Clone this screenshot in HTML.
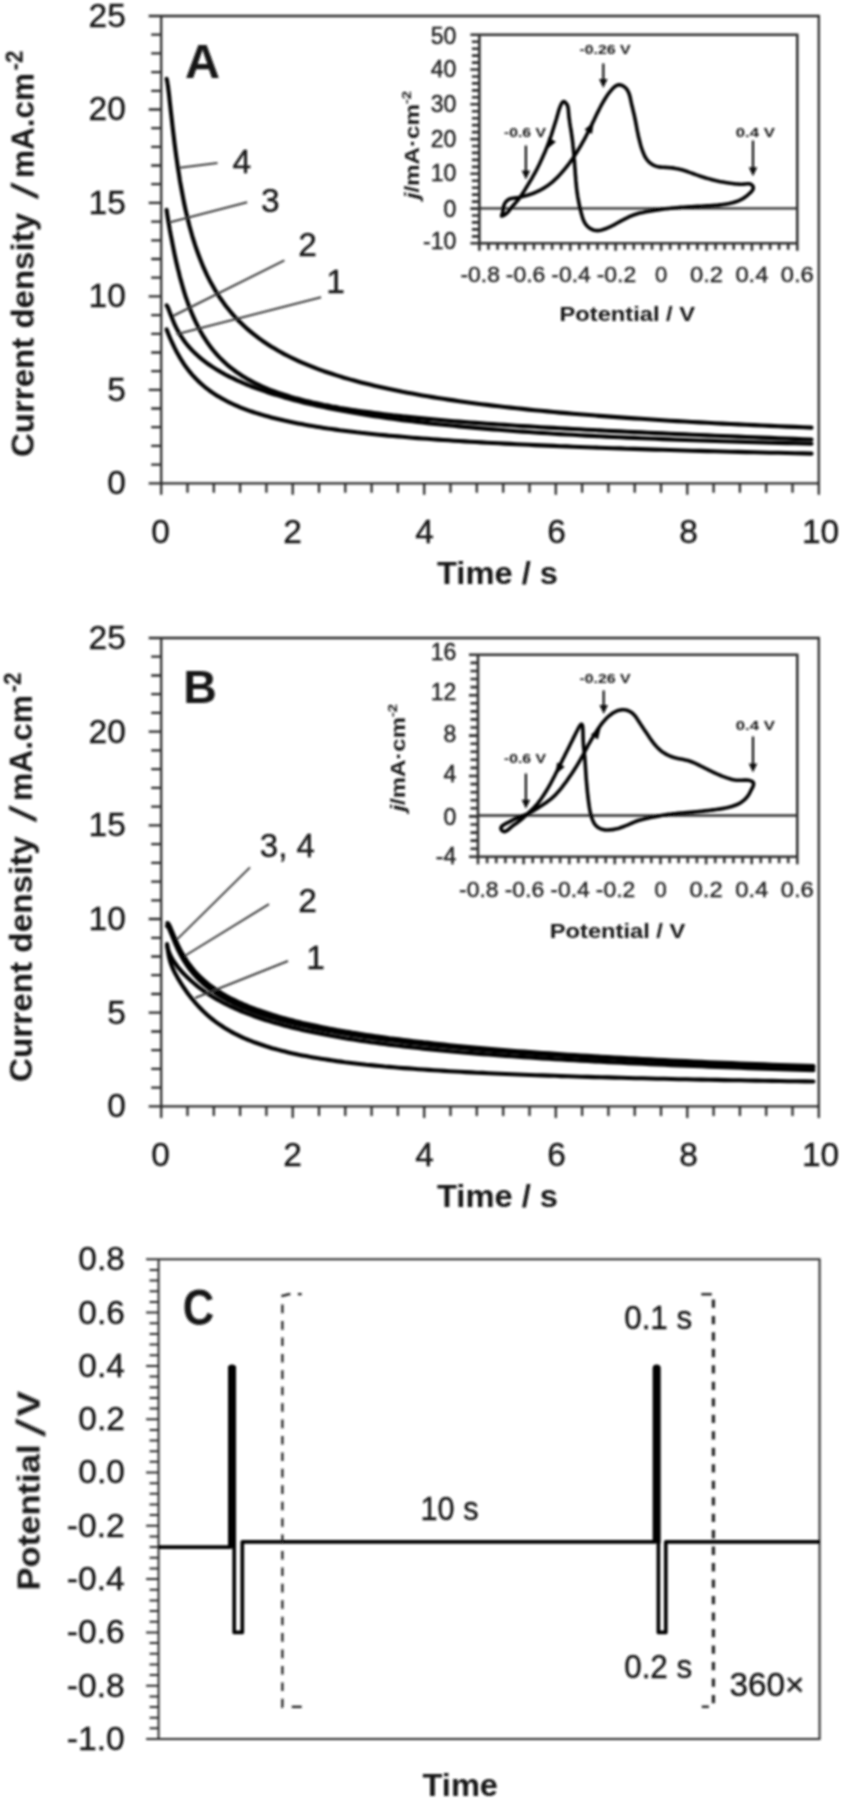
<!DOCTYPE html>
<html lang="en"><head><meta charset="utf-8"><title>Figure</title>
<style>
html,body{margin:0;padding:0;background:#fff}
body{width:844px;height:1800px;overflow:hidden}
svg{display:block}
svg text{font-family:"Liberation Sans",sans-serif}
</style></head><body>
<svg width="844" height="1800" viewBox="0 0 844 1800">
<defs><filter id="soft" x="0" y="0" width="844" height="1800" filterUnits="userSpaceOnUse"><feGaussianBlur stdDeviation="0.85"/></filter></defs>
<rect width="844" height="1800" fill="#fff"/>
<g filter="url(#soft)">
<path d="M148.7,16.0 H818.8 V494.8 M148.7,483.3 H818.8 M161.2,16.0 V494.8 M151.2,464.6 H161.2 M151.2,445.9 H161.2 M151.2,427.2 H161.2 M151.2,408.5 H161.2 M148.7,389.8 H161.2 M151.2,371.1 H161.2 M151.2,352.5 H161.2 M151.2,333.8 H161.2 M151.2,315.1 H161.2 M148.7,296.4 H161.2 M151.2,277.7 H161.2 M151.2,259.0 H161.2 M151.2,240.3 H161.2 M151.2,221.6 H161.2 M148.7,202.9 H161.2 M151.2,184.2 H161.2 M151.2,165.5 H161.2 M151.2,146.8 H161.2 M151.2,128.2 H161.2 M148.7,109.5 H161.2 M151.2,90.8 H161.2 M151.2,72.1 H161.2 M151.2,53.4 H161.2 M151.2,34.7 H161.2 M187.5,483.3 V492.8 M213.8,483.3 V492.8 M240.1,483.3 V492.8 M266.4,483.3 V492.8 M292.7,483.3 V494.8 M319.0,483.3 V492.8 M345.3,483.3 V492.8 M371.6,483.3 V492.8 M397.9,483.3 V492.8 M424.2,483.3 V494.8 M450.5,483.3 V492.8 M476.8,483.3 V492.8 M503.2,483.3 V492.8 M529.5,483.3 V492.8 M555.8,483.3 V494.8 M582.1,483.3 V492.8 M608.4,483.3 V492.8 M634.7,483.3 V492.8 M661.0,483.3 V492.8 M687.3,483.3 V494.8 M713.6,483.3 V492.8 M739.9,483.3 V492.8 M766.2,483.3 V492.8 M792.5,483.3 V492.8" fill="none" stroke="#2b2b2b" stroke-width="2.3"/>
<text x="125.8" y="494.2" font-size="33.5" text-anchor="end" fill="#141414" stroke="#141414" stroke-width="0.35" >0</text>
<text x="125.8" y="400.7" font-size="33.5" text-anchor="end" fill="#141414" stroke="#141414" stroke-width="0.35" >5</text>
<text x="125.8" y="307.3" font-size="33.5" text-anchor="end" fill="#141414" stroke="#141414" stroke-width="0.35" >10</text>
<text x="125.8" y="213.8" font-size="33.5" text-anchor="end" fill="#141414" stroke="#141414" stroke-width="0.35" >15</text>
<text x="125.8" y="120.4" font-size="33.5" text-anchor="end" fill="#141414" stroke="#141414" stroke-width="0.35" >20</text>
<text x="125.8" y="26.9" font-size="33.5" text-anchor="end" fill="#141414" stroke="#141414" stroke-width="0.35" >25</text>
<text x="160.6" y="542.7" font-size="33.5" text-anchor="middle" fill="#141414" stroke="#141414" stroke-width="0.35" >0</text>
<text x="292.6" y="542.7" font-size="33.5" text-anchor="middle" fill="#141414" stroke="#141414" stroke-width="0.35" >2</text>
<text x="424.6" y="542.7" font-size="33.5" text-anchor="middle" fill="#141414" stroke="#141414" stroke-width="0.35" >4</text>
<text x="556.6" y="542.7" font-size="33.5" text-anchor="middle" fill="#141414" stroke="#141414" stroke-width="0.35" >6</text>
<text x="688.6" y="542.7" font-size="33.5" text-anchor="middle" fill="#141414" stroke="#141414" stroke-width="0.35" >8</text>
<text x="820.6" y="542.7" font-size="33.5" text-anchor="middle" fill="#141414" stroke="#141414" stroke-width="0.35" >10</text>
<text x="437" y="583.7" font-size="32" text-anchor="start" fill="#141414" font-weight="bold" textLength="121" lengthAdjust="spacingAndGlyphs" >Time / s</text>
<g transform="translate(33.6 457.0) rotate(-90)" font-size="32" font-weight="bold" fill="#141414"><text x="0" y="0" textLength="244.0" lengthAdjust="spacingAndGlyphs">Current density</text><text x="0" y="0" font-size="37" transform="translate(257.5 3.5) skewX(-15)">/</text><text x="279.0" y="0" textLength="105.0" lengthAdjust="spacingAndGlyphs">mA.cm</text><text x="386.5" y="-11" font-size="23" textLength="20.0" lengthAdjust="spacingAndGlyphs">-2</text></g>
<text x="185" y="77.8" font-size="48.5" text-anchor="start" fill="#141414" font-weight="bold" >A</text>
<path d="M166.6,78.9 L166.6,78.9 L166.6,79.0 L166.7,79.1 L166.8,79.4 L166.9,79.8 L167.0,80.4 L167.2,81.2 L167.4,82.3 L167.6,83.8 L167.9,85.6 L168.2,87.9 L168.5,90.5 L168.9,93.6 L169.3,97.2 L169.7,101.1 L170.2,105.5 L170.7,110.2 L171.3,115.2 L171.9,120.6 L172.5,126.1 L173.2,131.9 L173.9,137.8 L174.6,143.8 L175.4,149.9 L176.2,156.1 L177.1,162.2 L178.0,168.4 L179.0,174.5 L179.9,180.6 L181.0,186.6 L182.1,192.5 L183.2,198.3 L184.3,204.0 L185.5,209.6 L186.8,215.1 L188.1,220.5 L189.4,225.7 L190.8,230.8 L192.2,235.8 L193.7,240.6 L195.2,245.4 L196.8,250.0 L198.4,254.5 L200.0,258.8 L201.7,263.1 L203.4,267.2 L205.2,271.2 L207.0,275.1 L208.9,278.9 L210.8,282.6 L212.8,286.1 L214.8,289.6 L216.9,293.0 L219.0,296.3 L221.2,299.5 L223.4,302.6 L225.6,305.7 L227.9,308.6 L230.3,311.5 L232.7,314.3 L235.1,317.0 L237.6,319.7 L240.2,322.3 L242.8,324.8 L245.4,327.2 L248.1,329.6 L250.8,331.9 L253.6,334.2 L256.5,336.4 L259.4,338.6 L262.3,340.7 L265.3,342.7 L268.3,344.7 L271.4,346.7 L274.6,348.6 L277.8,350.5 L281.0,352.3 L284.3,354.1 L287.6,355.8 L291.0,357.5 L294.5,359.2 L298.0,360.8 L301.5,362.4 L305.1,363.9 L308.8,365.4 L312.5,366.9 L316.3,368.4 L320.1,369.8 L323.9,371.2 L327.8,372.5 L331.8,373.8 L335.8,375.1 L339.9,376.4 L344.0,377.7 L348.2,378.9 L352.4,380.1 L356.7,381.2 L361.1,382.4 L365.5,383.5 L369.9,384.6 L374.4,385.7 L379.0,386.8 L383.6,387.8 L388.2,388.8 L392.9,389.8 L397.7,390.8 L402.5,391.8 L407.4,392.7 L412.3,393.6 L417.3,394.5 L422.4,395.4 L427.5,396.3 L432.6,397.1 L437.8,398.0 L443.1,398.8 L448.4,399.6 L453.8,400.4 L459.2,401.2 L464.7,402.0 L470.2,402.7 L475.8,403.5 L481.5,404.2 L487.2,404.9 L492.9,405.6 L498.8,406.3 L504.6,407.0 L510.6,407.6 L516.5,408.3 L522.6,408.9 L528.7,409.6 L534.8,410.2 L541.1,410.8 L547.3,411.4 L553.7,412.0 L560.0,412.6 L566.5,413.1 L573.0,413.7 L579.5,414.3 L586.1,414.8 L592.8,415.3 L599.5,415.9 L606.3,416.4 L613.2,416.9 L620.1,417.4 L627.0,417.9 L634.0,418.4 L641.1,418.8 L648.2,419.3 L655.4,419.8 L662.7,420.2 L670.0,420.7 L677.3,421.1 L684.8,421.5 L692.2,422.0 L699.8,422.4 L707.4,422.8 L715.0,423.2 L722.7,423.6 L730.5,424.0 L738.3,424.4 L746.2,424.8 L754.2,425.1 L762.2,425.5 L770.3,425.9 L778.4,426.2 L786.6,426.6 L794.8,426.9 L803.1,427.3 L811.5,427.6" fill="none" stroke="#000" stroke-width="4.1" stroke-linecap="round" stroke-linejoin="round"/>
<path d="M166.6,209.9 L166.6,210.0 L166.6,210.2 L166.7,210.6 L166.8,211.2 L166.9,211.9 L167.0,212.9 L167.2,214.0 L167.4,215.4 L167.6,216.9 L167.9,218.5 L168.2,220.4 L168.5,222.3 L168.9,224.5 L169.3,226.8 L169.7,229.3 L170.2,231.9 L170.7,234.7 L171.3,237.6 L171.9,240.7 L172.5,243.9 L173.2,247.3 L173.9,250.8 L174.6,254.3 L175.4,258.0 L176.2,261.7 L177.1,265.5 L178.0,269.3 L179.0,273.1 L179.9,277.0 L181.0,280.9 L182.1,284.8 L183.2,288.6 L184.3,292.4 L185.5,296.2 L186.8,299.9 L188.1,303.6 L189.4,307.2 L190.8,310.7 L192.2,314.2 L193.7,317.6 L195.2,320.9 L196.8,324.2 L198.4,327.4 L200.0,330.4 L201.7,333.4 L203.4,336.4 L205.2,339.2 L207.0,342.0 L208.9,344.6 L210.8,347.2 L212.8,349.8 L214.8,352.2 L216.9,354.6 L219.0,356.9 L221.2,359.1 L223.4,361.2 L225.6,363.3 L227.9,365.4 L230.3,367.3 L232.7,369.2 L235.1,371.0 L237.6,372.8 L240.2,374.5 L242.8,376.2 L245.4,377.8 L248.1,379.4 L250.8,380.9 L253.6,382.4 L256.5,383.8 L259.4,385.2 L262.3,386.5 L265.3,387.8 L268.3,389.1 L271.4,390.3 L274.6,391.5 L277.8,392.6 L281.0,393.7 L284.3,394.8 L287.6,395.8 L291.0,396.9 L294.5,397.9 L298.0,398.8 L301.5,399.8 L305.1,400.7 L308.8,401.5 L312.5,402.4 L316.3,403.2 L320.1,404.1 L323.9,404.9 L327.8,405.6 L331.8,406.4 L335.8,407.1 L339.9,407.9 L344.0,408.6 L348.2,409.2 L352.4,409.9 L356.7,410.6 L361.1,411.2 L365.5,411.8 L369.9,412.4 L374.4,413.0 L379.0,413.6 L383.6,414.2 L388.2,414.7 L392.9,415.3 L397.7,415.8 L402.5,416.4 L407.4,416.9 L412.3,417.4 L417.3,417.9 L422.4,418.4 L427.5,418.9 L432.6,419.3 L437.8,419.8 L443.1,420.3 L448.4,420.7 L453.8,421.2 L459.2,421.6 L464.7,422.0 L470.2,422.5 L475.8,422.9 L481.5,423.3 L487.2,423.7 L492.9,424.1 L498.8,424.5 L504.6,424.9 L510.6,425.3 L516.5,425.7 L522.6,426.1 L528.7,426.4 L534.8,426.8 L541.1,427.2 L547.3,427.6 L553.7,427.9 L560.0,428.3 L566.5,428.6 L573.0,429.0 L579.5,429.3 L586.1,429.7 L592.8,430.0 L599.5,430.4 L606.3,430.7 L613.2,431.1 L620.1,431.4 L627.0,431.8 L634.0,432.1 L641.1,432.4 L648.2,432.8 L655.4,433.1 L662.7,433.4 L670.0,433.7 L677.3,434.1 L684.8,434.4 L692.2,434.7 L699.8,435.0 L707.4,435.4 L715.0,435.7 L722.7,436.0 L730.5,436.3 L738.3,436.6 L746.2,437.0 L754.2,437.3 L762.2,437.6 L770.3,437.9 L778.4,438.2 L786.6,438.5 L794.8,438.9 L803.1,439.2 L811.5,439.5" fill="none" stroke="#000" stroke-width="4.1" stroke-linecap="round" stroke-linejoin="round"/>
<path d="M166.6,305.4 L166.6,305.4 L166.6,305.5 L166.7,305.5 L166.8,305.6 L166.9,305.7 L167.0,305.9 L167.2,306.2 L167.4,306.5 L167.6,307.0 L167.9,307.6 L168.2,308.3 L168.5,309.1 L168.9,310.0 L169.3,311.1 L169.7,312.2 L170.2,313.5 L170.7,314.9 L171.3,316.3 L171.9,317.8 L172.5,319.4 L173.2,321.0 L173.9,322.7 L174.6,324.4 L175.4,326.0 L176.2,327.7 L177.1,329.4 L178.0,331.1 L179.0,332.8 L179.9,334.5 L181.0,336.2 L182.1,337.8 L183.2,339.5 L184.3,341.1 L185.5,342.7 L186.8,344.3 L188.1,345.8 L189.4,347.4 L190.8,348.9 L192.2,350.4 L193.7,351.9 L195.2,353.4 L196.8,354.8 L198.4,356.2 L200.0,357.7 L201.7,359.1 L203.4,360.4 L205.2,361.8 L207.0,363.2 L208.9,364.5 L210.8,365.8 L212.8,367.1 L214.8,368.4 L216.9,369.7 L219.0,370.9 L221.2,372.2 L223.4,373.4 L225.6,374.7 L227.9,375.9 L230.3,377.1 L232.7,378.2 L235.1,379.4 L237.6,380.6 L240.2,381.7 L242.8,382.8 L245.4,384.0 L248.1,385.1 L250.8,386.2 L253.6,387.2 L256.5,388.3 L259.4,389.4 L262.3,390.4 L265.3,391.4 L268.3,392.5 L271.4,393.5 L274.6,394.5 L277.8,395.4 L281.0,396.4 L284.3,397.4 L287.6,398.3 L291.0,399.3 L294.5,400.2 L298.0,401.1 L301.5,402.0 L305.1,402.9 L308.8,403.7 L312.5,404.6 L316.3,405.4 L320.1,406.3 L323.9,407.1 L327.8,407.9 L331.8,408.7 L335.8,409.5 L339.9,410.3 L344.0,411.1 L348.2,411.8 L352.4,412.6 L356.7,413.3 L361.1,414.0 L365.5,414.7 L369.9,415.4 L374.4,416.1 L379.0,416.8 L383.6,417.5 L388.2,418.2 L392.9,418.8 L397.7,419.4 L402.5,420.1 L407.4,420.7 L412.3,421.3 L417.3,421.9 L422.4,422.5 L427.5,423.1 L432.6,423.7 L437.8,424.2 L443.1,424.8 L448.4,425.3 L453.8,425.8 L459.2,426.4 L464.7,426.9 L470.2,427.4 L475.8,427.9 L481.5,428.4 L487.2,428.9 L492.9,429.4 L498.8,429.8 L504.6,430.3 L510.6,430.7 L516.5,431.2 L522.6,431.6 L528.7,432.0 L534.8,432.5 L541.1,432.9 L547.3,433.3 L553.7,433.7 L560.0,434.1 L566.5,434.5 L573.0,434.8 L579.5,435.2 L586.1,435.6 L592.8,435.9 L599.5,436.3 L606.3,436.6 L613.2,437.0 L620.1,437.3 L627.0,437.6 L634.0,437.9 L641.1,438.2 L648.2,438.5 L655.4,438.8 L662.7,439.1 L670.0,439.4 L677.3,439.7 L684.8,440.0 L692.2,440.3 L699.8,440.5 L707.4,440.8 L715.0,441.0 L722.7,441.3 L730.5,441.5 L738.3,441.8 L746.2,442.0 L754.2,442.2 L762.2,442.5 L770.3,442.7 L778.4,442.9 L786.6,443.1 L794.8,443.3 L803.1,443.5 L811.5,443.7" fill="none" stroke="#000" stroke-width="4.1" stroke-linecap="round" stroke-linejoin="round"/>
<path d="M166.6,329.3 L166.6,329.4 L166.6,329.5 L166.7,329.6 L166.8,329.8 L166.9,330.1 L167.0,330.5 L167.2,331.0 L167.4,331.5 L167.6,332.1 L167.9,332.8 L168.2,333.5 L168.5,334.3 L168.9,335.2 L169.3,336.2 L169.7,337.2 L170.2,338.4 L170.7,339.5 L171.3,340.8 L171.9,342.1 L172.5,343.5 L173.2,344.9 L173.9,346.4 L174.6,347.9 L175.4,349.4 L176.2,351.0 L177.1,352.7 L178.0,354.3 L179.0,356.0 L179.9,357.7 L181.0,359.4 L182.1,361.1 L183.2,362.9 L184.3,364.6 L185.5,366.3 L186.8,368.0 L188.1,369.7 L189.4,371.4 L190.8,373.1 L192.2,374.8 L193.7,376.4 L195.2,378.0 L196.8,379.6 L198.4,381.2 L200.0,382.8 L201.7,384.3 L203.4,385.8 L205.2,387.3 L207.0,388.7 L208.9,390.1 L210.8,391.5 L212.8,392.9 L214.8,394.2 L216.9,395.6 L219.0,396.8 L221.2,398.1 L223.4,399.3 L225.6,400.5 L227.9,401.7 L230.3,402.9 L232.7,404.0 L235.1,405.1 L237.6,406.2 L240.2,407.3 L242.8,408.3 L245.4,409.3 L248.1,410.3 L250.8,411.3 L253.6,412.2 L256.5,413.1 L259.4,414.0 L262.3,414.9 L265.3,415.8 L268.3,416.6 L271.4,417.4 L274.6,418.2 L277.8,419.0 L281.0,419.8 L284.3,420.6 L287.6,421.3 L291.0,422.0 L294.5,422.7 L298.0,423.4 L301.5,424.1 L305.1,424.8 L308.8,425.4 L312.5,426.1 L316.3,426.7 L320.1,427.3 L323.9,427.9 L327.8,428.5 L331.8,429.0 L335.8,429.6 L339.9,430.2 L344.0,430.7 L348.2,431.2 L352.4,431.7 L356.7,432.3 L361.1,432.8 L365.5,433.2 L369.9,433.7 L374.4,434.2 L379.0,434.7 L383.6,435.1 L388.2,435.6 L392.9,436.0 L397.7,436.4 L402.5,436.8 L407.4,437.3 L412.3,437.7 L417.3,438.1 L422.4,438.5 L427.5,438.8 L432.6,439.2 L437.8,439.6 L443.1,440.0 L448.4,440.3 L453.8,440.7 L459.2,441.0 L464.7,441.4 L470.2,441.7 L475.8,442.0 L481.5,442.4 L487.2,442.7 L492.9,443.0 L498.8,443.3 L504.6,443.6 L510.6,443.9 L516.5,444.2 L522.6,444.5 L528.7,444.8 L534.8,445.1 L541.1,445.4 L547.3,445.6 L553.7,445.9 L560.0,446.2 L566.5,446.4 L573.0,446.7 L579.5,447.0 L586.1,447.2 L592.8,447.5 L599.5,447.7 L606.3,448.0 L613.2,448.2 L620.1,448.4 L627.0,448.7 L634.0,448.9 L641.1,449.1 L648.2,449.4 L655.4,449.6 L662.7,449.8 L670.0,450.0 L677.3,450.2 L684.8,450.5 L692.2,450.7 L699.8,450.9 L707.4,451.1 L715.0,451.3 L722.7,451.5 L730.5,451.7 L738.3,451.9 L746.2,452.1 L754.2,452.3 L762.2,452.5 L770.3,452.7 L778.4,452.8 L786.6,453.0 L794.8,453.2 L803.1,453.4 L811.5,453.6" fill="none" stroke="#000" stroke-width="4.1" stroke-linecap="round" stroke-linejoin="round"/>
<line x1="179.6" y1="167.8" x2="217.5" y2="163.1" stroke="#3a3a3a" stroke-width="2" />
<line x1="170.1" y1="222.3" x2="247.2" y2="202.2" stroke="#3a3a3a" stroke-width="2" />
<line x1="173.0" y1="316.0" x2="284.4" y2="260.3" stroke="#3a3a3a" stroke-width="2" />
<line x1="176.5" y1="334.3" x2="321.1" y2="297.3" stroke="#3a3a3a" stroke-width="2" />
<text x="241.8" y="172.5" font-size="33.5" text-anchor="middle" fill="#141414" stroke="#141414" stroke-width="0.35" >4</text>
<text x="270.2" y="211.5" font-size="33.5" text-anchor="middle" fill="#141414" stroke="#141414" stroke-width="0.35" >3</text>
<text x="307.5" y="255.5" font-size="33.5" text-anchor="middle" fill="#141414" stroke="#141414" stroke-width="0.35" >2</text>
<text x="335.5" y="293.3" font-size="33.5" text-anchor="middle" fill="#141414" stroke="#141414" stroke-width="0.35" >1</text>
<path d="M148.7,638.0 H818.8 V1117.9 M148.7,1106.4 H818.8 M161.2,638.0 V1117.9 M151.2,1087.7 H161.2 M151.2,1068.9 H161.2 M151.2,1050.2 H161.2 M151.2,1031.5 H161.2 M148.7,1012.7 H161.2 M151.2,994.0 H161.2 M151.2,975.2 H161.2 M151.2,956.5 H161.2 M151.2,937.8 H161.2 M148.7,919.0 H161.2 M151.2,900.3 H161.2 M151.2,881.6 H161.2 M151.2,862.8 H161.2 M151.2,844.1 H161.2 M148.7,825.4 H161.2 M151.2,806.6 H161.2 M151.2,787.9 H161.2 M151.2,769.2 H161.2 M151.2,750.4 H161.2 M148.7,731.7 H161.2 M151.2,712.9 H161.2 M151.2,694.2 H161.2 M151.2,675.5 H161.2 M151.2,656.7 H161.2 M187.5,1106.4 V1115.9 M213.8,1106.4 V1115.9 M240.1,1106.4 V1115.9 M266.4,1106.4 V1115.9 M292.7,1106.4 V1117.9 M319.0,1106.4 V1115.9 M345.3,1106.4 V1115.9 M371.6,1106.4 V1115.9 M397.9,1106.4 V1115.9 M424.2,1106.4 V1117.9 M450.5,1106.4 V1115.9 M476.8,1106.4 V1115.9 M503.2,1106.4 V1115.9 M529.5,1106.4 V1115.9 M555.8,1106.4 V1117.9 M582.1,1106.4 V1115.9 M608.4,1106.4 V1115.9 M634.7,1106.4 V1115.9 M661.0,1106.4 V1115.9 M687.3,1106.4 V1117.9 M713.6,1106.4 V1115.9 M739.9,1106.4 V1115.9 M766.2,1106.4 V1115.9 M792.5,1106.4 V1115.9" fill="none" stroke="#2b2b2b" stroke-width="2.3"/>
<text x="125.8" y="1117.3" font-size="33.5" text-anchor="end" fill="#141414" stroke="#141414" stroke-width="0.35" >0</text>
<text x="125.8" y="1023.6" font-size="33.5" text-anchor="end" fill="#141414" stroke="#141414" stroke-width="0.35" >5</text>
<text x="125.8" y="929.9" font-size="33.5" text-anchor="end" fill="#141414" stroke="#141414" stroke-width="0.35" >10</text>
<text x="125.8" y="836.3" font-size="33.5" text-anchor="end" fill="#141414" stroke="#141414" stroke-width="0.35" >15</text>
<text x="125.8" y="742.6" font-size="33.5" text-anchor="end" fill="#141414" stroke="#141414" stroke-width="0.35" >20</text>
<text x="125.8" y="648.9" font-size="33.5" text-anchor="end" fill="#141414" stroke="#141414" stroke-width="0.35" >25</text>
<text x="160.6" y="1165.8" font-size="33.5" text-anchor="middle" fill="#141414" stroke="#141414" stroke-width="0.35" >0</text>
<text x="292.6" y="1165.8" font-size="33.5" text-anchor="middle" fill="#141414" stroke="#141414" stroke-width="0.35" >2</text>
<text x="424.6" y="1165.8" font-size="33.5" text-anchor="middle" fill="#141414" stroke="#141414" stroke-width="0.35" >4</text>
<text x="556.6" y="1165.8" font-size="33.5" text-anchor="middle" fill="#141414" stroke="#141414" stroke-width="0.35" >6</text>
<text x="688.6" y="1165.8" font-size="33.5" text-anchor="middle" fill="#141414" stroke="#141414" stroke-width="0.35" >8</text>
<text x="820.6" y="1165.8" font-size="33.5" text-anchor="middle" fill="#141414" stroke="#141414" stroke-width="0.35" >10</text>
<text x="437" y="1206.8" font-size="32" text-anchor="start" fill="#141414" font-weight="bold" textLength="121" lengthAdjust="spacingAndGlyphs" >Time / s</text>
<g transform="translate(31.8 1082.0) rotate(-90)" font-size="32" font-weight="bold" fill="#141414"><text x="0" y="0" textLength="245.8" lengthAdjust="spacingAndGlyphs">Current density</text><text x="0" y="0" font-size="37" transform="translate(259.4 3.5) skewX(-15)">/</text><text x="281.1" y="0" textLength="105.8" lengthAdjust="spacingAndGlyphs">mA.cm</text><text x="389.4" y="-11" font-size="23" textLength="20.1" lengthAdjust="spacingAndGlyphs">-2</text></g>
<text x="183.2" y="703.3" font-size="46.5" text-anchor="start" fill="#141414" font-weight="bold" >B</text>
<path d="M167.3,923.0 L167.3,923.0 L167.3,923.0 L167.4,923.0 L167.5,923.0 L167.6,923.1 L167.7,923.1 L167.9,923.3 L168.1,923.4 L168.3,923.7 L168.6,924.1 L168.9,924.5 L169.2,925.1 L169.6,925.9 L170.0,926.7 L170.4,927.7 L170.9,928.8 L171.4,930.0 L172.0,931.4 L172.6,932.8 L173.2,934.3 L173.9,936.0 L174.6,937.6 L175.3,939.4 L176.1,941.2 L176.9,943.0 L177.8,944.9 L178.7,946.8 L179.7,948.7 L180.7,950.6 L181.7,952.5 L182.8,954.4 L183.9,956.3 L185.1,958.2 L186.3,960.1 L187.5,961.9 L188.8,963.7 L190.2,965.5 L191.5,967.3 L193.0,969.1 L194.4,970.8 L195.9,972.5 L197.5,974.1 L199.1,975.8 L200.8,977.4 L202.5,979.0 L204.2,980.6 L206.0,982.1 L207.8,983.6 L209.7,985.1 L211.6,986.5 L213.6,987.9 L215.6,989.3 L217.7,990.7 L219.8,992.1 L222.0,993.4 L224.2,994.7 L226.4,996.0 L228.7,997.2 L231.1,998.5 L233.5,999.7 L236.0,1000.9 L238.5,1002.1 L241.0,1003.2 L243.6,1004.4 L246.3,1005.5 L248.9,1006.6 L251.7,1007.7 L254.5,1008.7 L257.3,1009.8 L260.2,1010.8 L263.2,1011.8 L266.2,1012.8 L269.2,1013.8 L272.3,1014.8 L275.5,1015.7 L278.7,1016.7 L281.9,1017.6 L285.2,1018.5 L288.6,1019.4 L292.0,1020.3 L295.4,1021.2 L298.9,1022.0 L302.5,1022.9 L306.1,1023.7 L309.8,1024.5 L313.5,1025.3 L317.2,1026.1 L321.0,1026.9 L324.9,1027.7 L328.8,1028.5 L332.8,1029.2 L336.8,1030.0 L340.9,1030.7 L345.1,1031.4 L349.2,1032.1 L353.5,1032.9 L357.8,1033.5 L362.1,1034.2 L366.5,1034.9 L371.0,1035.6 L375.5,1036.2 L380.0,1036.9 L384.7,1037.5 L389.3,1038.2 L394.1,1038.8 L398.8,1039.4 L403.7,1040.0 L408.6,1040.6 L413.5,1041.2 L418.5,1041.8 L423.5,1042.4 L428.7,1042.9 L433.8,1043.5 L439.0,1044.1 L444.3,1044.6 L449.6,1045.2 L455.0,1045.7 L460.4,1046.2 L465.9,1046.7 L471.5,1047.3 L477.1,1047.8 L482.8,1048.3 L488.5,1048.8 L494.2,1049.3 L500.1,1049.7 L506.0,1050.2 L511.9,1050.7 L517.9,1051.2 L524.0,1051.6 L530.1,1052.1 L536.2,1052.5 L542.5,1053.0 L548.7,1053.4 L555.1,1053.8 L561.5,1054.3 L567.9,1054.7 L574.4,1055.1 L581.0,1055.5 L587.6,1055.9 L594.3,1056.3 L601.0,1056.7 L607.8,1057.1 L614.7,1057.5 L621.6,1057.9 L628.6,1058.3 L635.6,1058.6 L642.7,1059.0 L649.8,1059.4 L657.0,1059.7 L664.3,1060.1 L671.6,1060.5 L679.0,1060.8 L686.4,1061.1 L693.9,1061.5 L701.5,1061.8 L709.1,1062.2 L716.8,1062.5 L724.5,1062.8 L732.3,1063.1 L740.1,1063.5 L748.0,1063.8 L756.0,1064.1 L764.0,1064.4 L772.1,1064.7 L780.2,1065.0 L788.4,1065.3 L796.7,1065.6 L805.0,1065.9 L813.4,1066.1" fill="none" stroke="#000" stroke-width="4.1" stroke-linecap="round" stroke-linejoin="round"/>
<path d="M166.9,926.0 L166.9,926.0 L166.9,926.0 L167.0,926.0 L167.1,926.0 L167.2,926.0 L167.3,926.1 L167.5,926.2 L167.7,926.4 L167.9,926.6 L168.2,927.0 L168.5,927.5 L168.8,928.1 L169.2,928.9 L169.6,929.7 L170.0,930.8 L170.5,931.9 L171.0,933.2 L171.6,934.6 L172.2,936.1 L172.8,937.6 L173.5,939.3 L174.2,941.0 L174.9,942.8 L175.7,944.7 L176.6,946.5 L177.4,948.4 L178.3,950.4 L179.3,952.3 L180.3,954.2 L181.3,956.1 L182.4,958.1 L183.5,960.0 L184.7,961.9 L185.9,963.7 L187.1,965.6 L188.4,967.4 L189.8,969.2 L191.2,971.0 L192.6,972.7 L194.0,974.4 L195.6,976.1 L197.1,977.8 L198.7,979.4 L200.4,981.0 L202.1,982.6 L203.8,984.1 L205.6,985.6 L207.4,987.1 L209.3,988.6 L211.3,990.0 L213.2,991.4 L215.3,992.8 L217.3,994.2 L219.4,995.5 L221.6,996.8 L223.8,998.1 L226.1,999.3 L228.4,1000.6 L230.7,1001.8 L233.1,1003.0 L235.6,1004.1 L238.1,1005.3 L240.7,1006.4 L243.3,1007.5 L245.9,1008.6 L248.6,1009.7 L251.3,1010.8 L254.1,1011.8 L257.0,1012.8 L259.9,1013.8 L262.8,1014.8 L265.8,1015.8 L268.9,1016.7 L272.0,1017.7 L275.1,1018.6 L278.3,1019.5 L281.6,1020.4 L284.9,1021.3 L288.2,1022.2 L291.6,1023.0 L295.1,1023.9 L298.6,1024.7 L302.2,1025.5 L305.8,1026.3 L309.4,1027.1 L313.2,1027.9 L316.9,1028.7 L320.7,1029.4 L324.6,1030.2 L328.5,1030.9 L332.5,1031.6 L336.5,1032.4 L340.6,1033.1 L344.8,1033.8 L349.0,1034.5 L353.2,1035.1 L357.5,1035.8 L361.8,1036.5 L366.2,1037.1 L370.7,1037.8 L375.2,1038.4 L379.8,1039.0 L384.4,1039.6 L389.1,1040.2 L393.8,1040.8 L398.6,1041.4 L403.4,1042.0 L408.3,1042.6 L413.3,1043.2 L418.3,1043.7 L423.3,1044.3 L428.4,1044.8 L433.6,1045.4 L438.8,1045.9 L444.1,1046.4 L449.4,1047.0 L454.8,1047.5 L460.2,1048.0 L465.7,1048.5 L471.3,1049.0 L476.9,1049.5 L482.6,1050.0 L488.3,1050.4 L494.0,1050.9 L499.9,1051.4 L505.8,1051.8 L511.7,1052.3 L517.7,1052.7 L523.8,1053.2 L529.9,1053.6 L536.1,1054.0 L542.3,1054.5 L548.6,1054.9 L554.9,1055.3 L561.3,1055.7 L567.8,1056.1 L574.3,1056.5 L580.9,1056.9 L587.5,1057.3 L594.2,1057.7 L600.9,1058.1 L607.7,1058.5 L614.6,1058.8 L621.5,1059.2 L628.5,1059.6 L635.5,1059.9 L642.6,1060.3 L649.7,1060.7 L656.9,1061.0 L664.2,1061.3 L671.5,1061.7 L678.9,1062.0 L686.3,1062.4 L693.8,1062.7 L701.4,1063.0 L709.0,1063.3 L716.7,1063.6 L724.4,1064.0 L732.2,1064.3 L740.1,1064.6 L748.0,1064.9 L755.9,1065.2 L764.0,1065.5 L772.1,1065.8 L780.2,1066.1 L788.4,1066.3 L796.7,1066.6 L805.0,1066.9 L813.4,1067.2" fill="none" stroke="#000" stroke-width="4.1" stroke-linecap="round" stroke-linejoin="round"/>
<path d="M167.1,945.4 L167.1,945.4 L167.1,945.6 L167.2,945.8 L167.3,946.2 L167.4,946.6 L167.5,947.2 L167.7,947.8 L167.9,948.5 L168.1,949.3 L168.4,950.2 L168.7,951.1 L169.0,952.0 L169.4,953.0 L169.8,954.0 L170.2,955.0 L170.7,956.0 L171.2,957.0 L171.8,958.0 L172.4,959.1 L173.0,960.1 L173.7,961.2 L174.4,962.3 L175.1,963.3 L175.9,964.4 L176.8,965.5 L177.6,966.7 L178.5,967.8 L179.5,968.9 L180.5,970.1 L181.5,971.3 L182.6,972.5 L183.7,973.7 L184.9,974.9 L186.1,976.1 L187.3,977.3 L188.6,978.5 L190.0,979.8 L191.3,981.0 L192.8,982.3 L194.2,983.5 L195.8,984.8 L197.3,986.1 L198.9,987.3 L200.6,988.6 L202.3,989.8 L204.0,991.1 L205.8,992.3 L207.6,993.6 L209.5,994.8 L211.4,996.0 L213.4,997.2 L215.4,998.4 L217.5,999.6 L219.6,1000.8 L221.8,1002.0 L224.0,1003.2 L226.3,1004.3 L228.6,1005.5 L230.9,1006.6 L233.3,1007.7 L235.8,1008.8 L238.3,1009.9 L240.8,1011.0 L243.4,1012.1 L246.1,1013.1 L248.8,1014.2 L251.5,1015.2 L254.3,1016.2 L257.2,1017.2 L260.1,1018.2 L263.0,1019.2 L266.0,1020.2 L269.1,1021.1 L272.1,1022.1 L275.3,1023.0 L278.5,1023.9 L281.7,1024.8 L285.0,1025.7 L288.4,1026.5 L291.8,1027.4 L295.3,1028.2 L298.8,1029.1 L302.3,1029.9 L305.9,1030.7 L309.6,1031.5 L313.3,1032.3 L317.1,1033.1 L320.9,1033.8 L324.8,1034.6 L328.7,1035.3 L332.7,1036.1 L336.7,1036.8 L340.8,1037.5 L344.9,1038.2 L349.1,1038.9 L353.3,1039.5 L357.6,1040.2 L362.0,1040.9 L366.4,1041.5 L370.8,1042.2 L375.4,1042.8 L379.9,1043.4 L384.5,1044.0 L389.2,1044.6 L393.9,1045.2 L398.7,1045.8 L403.5,1046.4 L408.4,1046.9 L413.4,1047.5 L418.4,1048.0 L423.4,1048.6 L428.5,1049.1 L433.7,1049.6 L438.9,1050.2 L444.2,1050.7 L449.5,1051.2 L454.9,1051.7 L460.3,1052.2 L465.8,1052.7 L471.4,1053.1 L477.0,1053.6 L482.7,1054.1 L488.4,1054.5 L494.1,1055.0 L500.0,1055.4 L505.9,1055.9 L511.8,1056.3 L517.8,1056.7 L523.9,1057.1 L530.0,1057.5 L536.1,1058.0 L542.4,1058.4 L548.7,1058.8 L555.0,1059.2 L561.4,1059.5 L567.8,1059.9 L574.4,1060.3 L580.9,1060.7 L587.6,1061.0 L594.2,1061.4 L601.0,1061.8 L607.8,1062.1 L614.6,1062.5 L621.5,1062.8 L628.5,1063.2 L635.5,1063.5 L642.6,1063.8 L649.8,1064.2 L657.0,1064.5 L664.2,1064.8 L671.6,1065.1 L678.9,1065.4 L686.4,1065.7 L693.9,1066.0 L701.4,1066.3 L709.0,1066.6 L716.7,1066.9 L724.5,1067.2 L732.2,1067.5 L740.1,1067.8 L748.0,1068.1 L756.0,1068.4 L764.0,1068.6 L772.1,1068.9 L780.2,1069.2 L788.4,1069.4 L796.7,1069.7 L805.0,1069.9 L813.4,1070.2" fill="none" stroke="#000" stroke-width="4.1" stroke-linecap="round" stroke-linejoin="round"/>
<path d="M167.1,944.1 L167.1,944.2 L167.1,944.5 L167.2,945.0 L167.3,945.7 L167.4,946.7 L167.5,947.8 L167.7,949.1 L167.9,950.6 L168.1,952.1 L168.4,953.7 L168.7,955.3 L169.0,956.9 L169.4,958.5 L169.8,960.1 L170.2,961.6 L170.7,963.1 L171.2,964.6 L171.8,966.1 L172.4,967.5 L173.0,969.0 L173.7,970.4 L174.4,971.9 L175.1,973.3 L175.9,974.8 L176.8,976.3 L177.6,977.8 L178.5,979.4 L179.5,980.9 L180.5,982.6 L181.5,984.2 L182.6,985.9 L183.7,987.5 L184.9,989.2 L186.1,991.0 L187.3,992.7 L188.6,994.5 L190.0,996.2 L191.3,998.0 L192.8,999.8 L194.2,1001.5 L195.8,1003.3 L197.3,1005.0 L198.9,1006.8 L200.6,1008.5 L202.3,1010.2 L204.0,1011.9 L205.8,1013.6 L207.6,1015.2 L209.5,1016.9 L211.4,1018.5 L213.4,1020.0 L215.4,1021.6 L217.5,1023.1 L219.6,1024.6 L221.8,1026.0 L224.0,1027.5 L226.3,1028.9 L228.6,1030.2 L230.9,1031.6 L233.3,1032.9 L235.8,1034.2 L238.3,1035.4 L240.8,1036.6 L243.4,1037.8 L246.1,1039.0 L248.8,1040.1 L251.5,1041.2 L254.3,1042.3 L257.2,1043.3 L260.1,1044.3 L263.0,1045.3 L266.0,1046.3 L269.1,1047.2 L272.1,1048.2 L275.3,1049.0 L278.5,1049.9 L281.7,1050.8 L285.0,1051.6 L288.4,1052.4 L291.8,1053.2 L295.3,1053.9 L298.8,1054.7 L302.3,1055.4 L305.9,1056.1 L309.6,1056.8 L313.3,1057.4 L317.1,1058.1 L320.9,1058.7 L324.8,1059.3 L328.7,1059.9 L332.7,1060.5 L336.7,1061.1 L340.8,1061.6 L344.9,1062.2 L349.1,1062.7 L353.3,1063.2 L357.6,1063.7 L362.0,1064.2 L366.4,1064.7 L370.8,1065.1 L375.4,1065.6 L379.9,1066.0 L384.5,1066.5 L389.2,1066.9 L393.9,1067.3 L398.7,1067.7 L403.5,1068.1 L408.4,1068.4 L413.4,1068.8 L418.4,1069.2 L423.4,1069.5 L428.5,1069.9 L433.7,1070.2 L438.9,1070.5 L444.2,1070.9 L449.5,1071.2 L454.9,1071.5 L460.3,1071.8 L465.8,1072.1 L471.4,1072.4 L477.0,1072.7 L482.7,1072.9 L488.4,1073.2 L494.1,1073.5 L500.0,1073.7 L505.9,1074.0 L511.8,1074.2 L517.8,1074.5 L523.9,1074.7 L530.0,1075.0 L536.1,1075.2 L542.4,1075.4 L548.7,1075.6 L555.0,1075.8 L561.4,1076.1 L567.8,1076.3 L574.4,1076.5 L580.9,1076.7 L587.6,1076.9 L594.2,1077.1 L601.0,1077.3 L607.8,1077.4 L614.6,1077.6 L621.5,1077.8 L628.5,1078.0 L635.5,1078.2 L642.6,1078.3 L649.8,1078.5 L657.0,1078.7 L664.2,1078.8 L671.6,1079.0 L678.9,1079.2 L686.4,1079.3 L693.9,1079.5 L701.4,1079.6 L709.0,1079.8 L716.7,1079.9 L724.5,1080.1 L732.2,1080.2 L740.1,1080.3 L748.0,1080.5 L756.0,1080.6 L764.0,1080.8 L772.1,1080.9 L780.2,1081.0 L788.4,1081.2 L796.7,1081.3 L805.0,1081.4 L813.4,1081.5" fill="none" stroke="#000" stroke-width="4.1" stroke-linecap="round" stroke-linejoin="round"/>
<line x1="176.8" y1="939.6" x2="250.0" y2="867.4" stroke="#3a3a3a" stroke-width="2" />
<line x1="184.6" y1="956.0" x2="269.0" y2="904.1" stroke="#3a3a3a" stroke-width="2" />
<line x1="195.0" y1="998.0" x2="288.0" y2="961.0" stroke="#3a3a3a" stroke-width="2" />
<text x="287.3" y="856.7" font-size="33.5" text-anchor="middle" fill="#141414" stroke="#141414" stroke-width="0.35" textLength="55" lengthAdjust="spacingAndGlyphs" >3, 4</text>
<text x="307.5" y="912.2" font-size="33.5" text-anchor="middle" fill="#141414" stroke="#141414" stroke-width="0.35" >2</text>
<text x="315.5" y="969.2" font-size="33.5" text-anchor="middle" fill="#141414" stroke="#141414" stroke-width="0.35" >1</text>
<path d="M470.4,34.8 H797.3 V250.8 M470.4,243.3 H797.3 M479.4,34.8 V250.8 M471.9,41.8 H479.4 M471.9,48.7 H479.4 M471.9,55.6 H479.4 M471.9,62.6 H479.4 M470.4,69.5 H479.4 M471.9,76.5 H479.4 M471.9,83.4 H479.4 M471.9,90.4 H479.4 M471.9,97.3 H479.4 M470.4,104.3 H479.4 M471.9,111.2 H479.4 M471.9,118.2 H479.4 M471.9,125.1 H479.4 M471.9,132.1 H479.4 M470.4,139.1 H479.4 M471.9,146.0 H479.4 M471.9,152.9 H479.4 M471.9,159.9 H479.4 M471.9,166.9 H479.4 M470.4,173.8 H479.4 M471.9,180.8 H479.4 M471.9,187.7 H479.4 M471.9,194.6 H479.4 M471.9,201.6 H479.4 M470.4,208.6 H479.4 M471.9,215.5 H479.4 M471.9,222.4 H479.4 M471.9,229.4 H479.4 M471.9,236.4 H479.4 M488.5,243.3 V249.8 M497.6,243.3 V249.8 M506.6,243.3 V249.8 M515.7,243.3 V249.8 M524.8,243.3 V250.8 M533.9,243.3 V249.8 M543.0,243.3 V249.8 M552.1,243.3 V249.8 M561.1,243.3 V249.8 M570.2,243.3 V250.8 M579.3,243.3 V249.8 M588.4,243.3 V249.8 M597.5,243.3 V249.8 M606.6,243.3 V249.8 M615.6,243.3 V250.8 M624.7,243.3 V249.8 M633.8,243.3 V249.8 M642.9,243.3 V249.8 M652.0,243.3 V249.8 M661.1,243.3 V250.8 M670.1,243.3 V249.8 M679.2,243.3 V249.8 M688.3,243.3 V249.8 M697.4,243.3 V249.8 M706.5,243.3 V250.8 M715.6,243.3 V249.8 M724.6,243.3 V249.8 M733.7,243.3 V249.8 M742.8,243.3 V249.8 M751.9,243.3 V250.8 M761.0,243.3 V249.8 M770.1,243.3 V249.8 M779.1,243.3 V249.8 M788.2,243.3 V249.8" fill="none" stroke="#2e2e2e" stroke-width="2.6"/>
<line x1="479.4" y1="208.3" x2="797.3" y2="208.3" stroke="#2e2e2e" stroke-width="2.3" />
<text x="456.3" y="44.0" font-size="23" text-anchor="end" fill="#141414" stroke="#1c1c1c" stroke-width="0.35">50</text>
<text x="456.3" y="77.3" font-size="23" text-anchor="end" fill="#141414" stroke="#1c1c1c" stroke-width="0.35">40</text>
<text x="456.3" y="112.4" font-size="23" text-anchor="end" fill="#141414" stroke="#1c1c1c" stroke-width="0.35">30</text>
<text x="456.3" y="147.1" font-size="23" text-anchor="end" fill="#141414" stroke="#1c1c1c" stroke-width="0.35">20</text>
<text x="456.3" y="181.4" font-size="23" text-anchor="end" fill="#141414" stroke="#1c1c1c" stroke-width="0.35">10</text>
<text x="456.3" y="216.5" font-size="23" text-anchor="end" fill="#141414" stroke="#1c1c1c" stroke-width="0.35">0</text>
<text x="456.3" y="248.5" font-size="23" text-anchor="end" fill="#141414" stroke="#1c1c1c" stroke-width="0.35">-10</text>
<text x="480.2" y="282.2" font-size="22" text-anchor="middle" fill="#141414" textLength="39.5" lengthAdjust="spacingAndGlyphs" stroke="#1c1c1c" stroke-width="0.3">-0.8</text>
<text x="525.6" y="282.2" font-size="22" text-anchor="middle" fill="#141414" textLength="39.5" lengthAdjust="spacingAndGlyphs" stroke="#1c1c1c" stroke-width="0.3">-0.6</text>
<text x="571.0" y="282.2" font-size="22" text-anchor="middle" fill="#141414" textLength="39.5" lengthAdjust="spacingAndGlyphs" stroke="#1c1c1c" stroke-width="0.3">-0.4</text>
<text x="616.4" y="282.2" font-size="22" text-anchor="middle" fill="#141414" textLength="39.5" lengthAdjust="spacingAndGlyphs" stroke="#1c1c1c" stroke-width="0.3">-0.2</text>
<text x="661.1" y="282.2" font-size="22" text-anchor="middle" fill="#141414" stroke="#1c1c1c" stroke-width="0.3">0</text>
<text x="706.5" y="282.2" font-size="22" text-anchor="middle" fill="#141414" textLength="33" lengthAdjust="spacingAndGlyphs" stroke="#1c1c1c" stroke-width="0.3">0.2</text>
<text x="751.9" y="282.2" font-size="22" text-anchor="middle" fill="#141414" textLength="33" lengthAdjust="spacingAndGlyphs" stroke="#1c1c1c" stroke-width="0.3">0.4</text>
<text x="797.3" y="282.2" font-size="22" text-anchor="middle" fill="#141414" textLength="33" lengthAdjust="spacingAndGlyphs" stroke="#1c1c1c" stroke-width="0.3">0.6</text>
<text x="559.5" y="321.2" font-size="20.5" text-anchor="start" fill="#141414" font-weight="bold" textLength="135.5" lengthAdjust="spacingAndGlyphs" >Potential / V</text>
<text transform="translate(419.2 199.3) rotate(-90)" font-size="20.5" font-weight="bold" fill="#141414" textLength="108.3" lengthAdjust="spacingAndGlyphs"><tspan font-style="italic">j</tspan>/mA·cm<tspan font-size="12.5" dy="-8">-2</tspan></text>
<path d="M502.0,214.5 L502.6,212.7 L502.9,211.0 L503.1,209.4 L503.3,207.9 L503.6,206.4 L504.1,204.9 L504.8,203.4 L505.7,201.9 L506.9,200.7 L508.2,199.7 L509.6,198.9 L511.2,198.5 L512.8,198.2 L514.5,198.0 L516.2,197.8 L517.8,197.6 L519.4,197.3 L521.0,196.9 L522.6,196.5 L524.2,196.1 L525.8,195.7 L527.3,195.3 L528.9,194.8 L530.5,194.3 L532.0,193.7 L533.6,193.2 L535.1,192.5 L536.6,191.9 L538.1,191.2 L539.6,190.5 L541.0,189.7 L542.4,188.9 L543.9,188.1 L545.2,187.2 L546.6,186.3 L548.0,185.4 L549.3,184.4 L550.6,183.4 L551.9,182.3 L553.1,181.3 L554.3,180.2 L555.5,179.1 L556.7,177.9 L557.9,176.8 L559.0,175.6 L560.1,174.4 L561.2,173.2 L562.3,171.9 L563.4,170.7 L564.4,169.4 L565.5,168.2 L566.5,166.9 L567.5,165.6 L568.5,164.3 L569.5,163.0 L570.5,161.6 L571.4,160.3 L572.4,159.0 L573.3,157.6 L574.2,156.3 L575.1,154.9 L576.0,153.5 L576.9,152.1 L577.7,150.7 L578.6,149.3 L579.4,147.9 L580.3,146.5 L581.1,145.1 L581.9,143.7 L582.7,142.2 L583.5,140.8 L584.3,139.4 L585.1,137.9 L585.8,136.5 L586.6,135.0 L587.3,133.6 L588.1,132.1 L588.8,130.6 L589.5,129.2 L590.3,127.7 L591.0,126.2 L591.7,124.8 L592.4,123.3 L593.1,121.8 L593.9,120.3 L594.6,118.8 L595.3,117.3 L596.0,115.8 L596.7,114.3 L597.4,112.9 L598.2,111.4 L598.9,109.9 L599.6,108.5 L600.4,107.0 L601.1,105.6 L601.9,104.2 L602.7,102.8 L603.5,101.4 L604.3,100.0 L605.1,98.7 L606.0,97.3 L606.9,95.9 L607.8,94.6 L608.8,93.2 L609.9,91.9 L611.0,90.5 L612.2,89.1 L613.4,87.8 L614.7,86.7 L616.1,85.7 L617.6,85.1 L619.1,84.8 L620.6,85.0 L622.2,85.5 L623.7,86.3 L625.1,87.4 L626.3,88.6 L627.3,90.0 L628.1,91.4 L628.8,92.9 L629.3,94.4 L629.8,96.0 L630.2,97.6 L630.6,99.3 L630.9,100.9 L631.3,102.6 L631.6,104.2 L632.0,105.8 L632.4,107.4 L632.8,109.0 L633.1,110.5 L633.5,112.1 L633.9,113.7 L634.3,115.3 L634.6,116.9 L634.9,118.5 L635.3,120.1 L635.6,121.7 L635.9,123.3 L636.2,124.9 L636.5,126.5 L636.8,128.2 L637.1,129.8 L637.4,131.4 L637.8,133.0 L638.1,134.6 L638.4,136.2 L638.8,137.8 L639.2,139.4 L639.6,141.0 L640.0,142.6 L640.4,144.1 L640.8,145.7 L641.3,147.3 L641.8,148.9 L642.4,150.4 L642.9,152.0 L643.6,153.5 L644.2,155.0 L644.9,156.5 L645.8,158.0 L646.7,159.3 L647.7,160.6 L648.8,161.8 L650.0,162.9 L651.3,163.9 L652.8,164.8 L654.2,165.5 L655.8,166.1 L657.3,166.6 L658.9,166.9 L660.6,167.1 L662.2,167.3 L663.8,167.3 L665.5,167.4 L667.2,167.5 L668.8,167.6 L670.5,167.7 L672.1,167.9 L673.7,168.1 L675.3,168.4 L677.0,168.7 L678.6,169.0 L680.2,169.4 L681.7,169.8 L683.3,170.3 L684.9,170.8 L686.4,171.3 L688.0,171.8 L689.5,172.4 L691.1,172.9 L692.6,173.5 L694.2,174.0 L695.7,174.6 L697.3,175.1 L698.8,175.7 L700.4,176.2 L701.9,176.7 L703.5,177.2 L705.0,177.7 L706.6,178.2 L708.2,178.6 L709.8,179.1 L711.3,179.5 L712.9,179.9 L714.5,180.3 L716.1,180.7 L717.7,181.0 L719.3,181.4 L720.9,181.7 L722.6,182.0 L724.2,182.3 L725.8,182.6 L727.4,182.8 L729.0,183.1 L730.7,183.3 L732.3,183.5 L733.9,183.7 L735.5,183.9 L737.1,184.0 L738.7,184.1 L740.4,184.2 L742.0,184.2 L743.7,184.1 L745.4,184.0 L747.1,183.8 L748.8,183.7 L750.4,184.0 L751.8,184.9 L752.9,186.2 L753.3,187.8 L753.0,189.3 L752.2,190.7 L751.0,192.1 L749.6,193.3 L748.3,194.5 L747.1,195.6 L745.8,196.6 L744.5,197.5 L743.2,198.4 L741.8,199.2 L740.4,199.9 L738.9,200.6 L737.3,201.2 L735.8,201.7 L734.2,202.2 L732.6,202.7 L731.0,203.1 L729.4,203.5 L727.7,203.8 L726.1,204.1 L724.5,204.3 L722.9,204.5 L721.3,204.7 L719.6,204.9 L718.0,205.1 L716.4,205.2 L714.7,205.3 L713.1,205.5 L711.5,205.6 L709.8,205.7 L708.2,205.8 L706.6,205.9 L704.9,206.0 L703.3,206.1 L701.6,206.2 L700.0,206.3 L698.4,206.4 L696.7,206.4 L695.1,206.5 L693.5,206.6 L691.8,206.7 L690.2,206.8 L688.5,206.9 L686.9,207.0 L685.3,207.1 L683.6,207.2 L682.0,207.3 L680.4,207.4 L678.7,207.5 L677.1,207.7 L675.5,207.8 L673.8,208.0 L672.2,208.1 L670.6,208.3 L668.9,208.5 L667.3,208.6 L665.7,208.8 L664.1,209.0 L662.4,209.2 L660.8,209.4 L659.2,209.7 L657.6,209.9 L655.9,210.1 L654.3,210.4 L652.7,210.6 L651.1,210.9 L649.4,211.2 L647.8,211.4 L646.2,211.7 L644.6,212.0 L643.0,212.4 L641.4,212.7 L639.8,213.1 L638.2,213.5 L636.6,214.0 L635.0,214.5 L633.5,215.0 L632.0,215.6 L630.4,216.2 L628.9,216.9 L627.5,217.6 L626.0,218.3 L624.5,219.1 L623.1,219.9 L621.6,220.6 L620.2,221.4 L618.8,222.2 L617.3,223.0 L615.9,223.8 L614.5,224.6 L613.0,225.3 L611.6,226.0 L610.1,226.8 L608.6,227.4 L607.1,228.1 L605.5,228.7 L603.9,229.3 L602.3,229.8 L600.7,230.2 L599.1,230.5 L597.5,230.6 L595.8,230.5 L594.2,230.2 L592.6,229.7 L591.1,229.0 L589.6,228.1 L588.3,227.1 L587.1,226.0 L586.0,224.7 L585.1,223.4 L584.3,222.0 L583.6,220.5 L583.0,218.9 L582.4,217.4 L582.0,215.7 L581.5,214.1 L581.1,212.5 L580.7,210.9 L580.3,209.3 L579.9,207.6 L579.5,206.0 L579.2,204.4 L578.9,202.9 L578.6,201.3 L578.3,199.7 L578.0,198.1 L577.7,196.5 L577.5,194.8 L577.2,193.2 L577.0,191.6 L576.8,190.0 L576.6,188.4 L576.4,186.8 L576.3,185.1 L576.1,183.5 L576.0,181.9 L575.8,180.2 L575.7,178.6 L575.6,176.9 L575.4,175.3 L575.3,173.7 L575.2,172.0 L575.1,170.4 L575.0,168.7 L574.8,167.1 L574.7,165.5 L574.6,163.8 L574.5,162.2 L574.4,160.5 L574.2,158.9 L574.1,157.3 L574.0,155.6 L573.8,154.0 L573.7,152.4 L573.5,150.7 L573.4,149.1 L573.2,147.5 L573.0,145.9 L572.9,144.2 L572.7,142.6 L572.5,141.0 L572.3,139.3 L572.1,137.7 L571.8,136.1 L571.6,134.5 L571.4,132.8 L571.1,131.2 L570.9,129.6 L570.6,127.9 L570.3,126.3 L570.1,124.7 L569.8,123.0 L569.6,121.4 L569.4,119.8 L569.1,118.2 L568.9,116.6 L568.8,114.9 L568.6,113.3 L568.5,111.7 L568.4,110.1 L568.2,108.5 L567.9,106.9 L567.4,105.3 L566.5,103.8 L565.3,102.3 L564.0,101.5 L562.8,101.9 L561.7,103.3 L560.8,105.1 L560.1,106.8 L559.5,108.4 L558.9,110.0 L558.5,111.5 L558.1,112.9 L557.7,114.4 L557.3,115.9 L556.8,117.4 L556.4,119.0 L555.9,120.5 L555.4,122.1 L554.9,123.7 L554.4,125.3 L553.9,126.9 L553.4,128.5 L552.9,130.0 L552.4,131.6 L551.9,133.2 L551.4,134.7 L550.9,136.3 L550.3,137.8 L549.8,139.4 L549.3,140.9 L548.7,142.5 L548.2,144.0 L547.6,145.5 L547.0,147.0 L546.4,148.6 L545.7,150.1 L545.1,151.6 L544.5,153.1 L543.8,154.6 L543.1,156.1 L542.5,157.6 L541.8,159.1 L541.1,160.6 L540.4,162.1 L539.7,163.6 L539.0,165.0 L538.2,166.5 L537.5,168.0 L536.8,169.4 L536.0,170.9 L535.2,172.3 L534.4,173.8 L533.6,175.2 L532.8,176.6 L532.0,178.1 L531.2,179.5 L530.3,180.9 L529.5,182.3 L528.6,183.7 L527.8,185.1 L526.9,186.5 L526.1,187.9 L525.2,189.3 L524.4,190.7 L523.5,192.0 L522.6,193.4 L521.7,194.8 L520.8,196.1 L519.9,197.5 L518.9,198.8 L517.9,200.1 L516.8,201.4 L515.7,202.7 L514.5,204.0 L513.4,205.2 L512.4,206.5 L511.3,207.7 L510.4,208.8 L509.6,210.0 L508.7,211.2 L507.7,212.3 L506.5,213.5 L504.9,214.6 L502.9,215.8 L501.6,216.0 L502.0,214.5Z" fill="none" stroke="#000" stroke-width="3.6" stroke-linejoin="round"/>
<text x="605" y="54.2" font-size="13.5" text-anchor="middle" fill="#141414" font-weight="bold" textLength="51" lengthAdjust="spacingAndGlyphs" >-0.26 V</text>
<path d="M603.3,63.5 V80.0" stroke="#111" stroke-width="2.2" fill="none"/>
<path d="M599.0,79.0 H607.6 L603.3,88.0Z" fill="#111"/>
<text x="525" y="136.8" font-size="13.5" text-anchor="middle" fill="#141414" font-weight="bold" textLength="42" lengthAdjust="spacingAndGlyphs" >-0.6 V</text>
<path d="M525.9,145.5 V171.5" stroke="#111" stroke-width="2.2" fill="none"/>
<path d="M521.6,170.5 H530.2 L525.9,179.5Z" fill="#111"/>
<text x="755.3" y="136.8" font-size="13.5" text-anchor="middle" fill="#141414" font-weight="bold" textLength="39" lengthAdjust="spacingAndGlyphs" >0.4 V</text>
<path d="M753.0,140.5 V168.3" stroke="#111" stroke-width="2.2" fill="none"/>
<path d="M748.7,167.3 H757.3 L753.0,176.3Z" fill="#111"/>
<path d="M-5.5,-4.4 L5.5,0 L-5.5,4.4Z" fill="#000" transform="translate(549.5 144.5) rotate(118)"/>
<path d="M-5.5,-4.4 L5.5,0 L-5.5,4.4Z" fill="#000" transform="translate(591.0 127.0) rotate(-60)"/>
<path d="M469.0,654.8 H797.3 V864.3 M469.0,856.8 H797.3 M478.0,654.8 V864.3 M470.5,662.9 H478.0 M470.5,671.0 H478.0 M470.5,679.0 H478.0 M470.5,687.1 H478.0 M469.0,695.2 H478.0 M470.5,703.3 H478.0 M470.5,711.4 H478.0 M470.5,719.4 H478.0 M470.5,727.5 H478.0 M469.0,735.6 H478.0 M470.5,743.7 H478.0 M470.5,751.8 H478.0 M470.5,759.8 H478.0 M470.5,767.9 H478.0 M469.0,776.0 H478.0 M470.5,784.1 H478.0 M470.5,792.2 H478.0 M470.5,800.2 H478.0 M470.5,808.3 H478.0 M469.0,816.4 H478.0 M470.5,824.5 H478.0 M470.5,832.6 H478.0 M470.5,840.6 H478.0 M470.5,848.7 H478.0 M487.1,856.8 V863.3 M496.2,856.8 V863.3 M505.4,856.8 V863.3 M514.5,856.8 V863.3 M523.6,856.8 V864.3 M532.7,856.8 V863.3 M541.9,856.8 V863.3 M551.0,856.8 V863.3 M560.1,856.8 V863.3 M569.2,856.8 V864.3 M578.4,856.8 V863.3 M587.5,856.8 V863.3 M596.6,856.8 V863.3 M605.7,856.8 V863.3 M614.8,856.8 V864.3 M624.0,856.8 V863.3 M633.1,856.8 V863.3 M642.2,856.8 V863.3 M651.3,856.8 V863.3 M660.5,856.8 V864.3 M669.6,856.8 V863.3 M678.7,856.8 V863.3 M687.8,856.8 V863.3 M696.9,856.8 V863.3 M706.1,856.8 V864.3 M715.2,856.8 V863.3 M724.3,856.8 V863.3 M733.4,856.8 V863.3 M742.6,856.8 V863.3 M751.7,856.8 V864.3 M760.8,856.8 V863.3 M769.9,856.8 V863.3 M779.1,856.8 V863.3 M788.2,856.8 V863.3" fill="none" stroke="#2e2e2e" stroke-width="2.6"/>
<line x1="478.0" y1="815.5" x2="797.3" y2="815.5" stroke="#2e2e2e" stroke-width="2.3" />
<text x="456.3" y="660.3" font-size="23" text-anchor="end" fill="#141414" stroke="#1c1c1c" stroke-width="0.35">16</text>
<text x="456.3" y="700.3" font-size="23" text-anchor="end" fill="#141414" stroke="#1c1c1c" stroke-width="0.35">12</text>
<text x="456.3" y="742.1" font-size="23" text-anchor="end" fill="#141414" stroke="#1c1c1c" stroke-width="0.35">8</text>
<text x="456.3" y="781.8" font-size="23" text-anchor="end" fill="#141414" stroke="#1c1c1c" stroke-width="0.35">4</text>
<text x="456.3" y="824.5" font-size="23" text-anchor="end" fill="#141414" stroke="#1c1c1c" stroke-width="0.35">0</text>
<text x="456.3" y="863.9" font-size="23" text-anchor="end" fill="#141414" stroke="#1c1c1c" stroke-width="0.35">-4</text>
<text x="478.8" y="897.3" font-size="22" text-anchor="middle" fill="#141414" textLength="39.5" lengthAdjust="spacingAndGlyphs" stroke="#1c1c1c" stroke-width="0.3">-0.8</text>
<text x="524.4" y="897.3" font-size="22" text-anchor="middle" fill="#141414" textLength="39.5" lengthAdjust="spacingAndGlyphs" stroke="#1c1c1c" stroke-width="0.3">-0.6</text>
<text x="570.0" y="897.3" font-size="22" text-anchor="middle" fill="#141414" textLength="39.5" lengthAdjust="spacingAndGlyphs" stroke="#1c1c1c" stroke-width="0.3">-0.4</text>
<text x="615.6" y="897.3" font-size="22" text-anchor="middle" fill="#141414" textLength="39.5" lengthAdjust="spacingAndGlyphs" stroke="#1c1c1c" stroke-width="0.3">-0.2</text>
<text x="660.5" y="897.3" font-size="22" text-anchor="middle" fill="#141414" stroke="#1c1c1c" stroke-width="0.3">0</text>
<text x="706.1" y="897.3" font-size="22" text-anchor="middle" fill="#141414" textLength="33" lengthAdjust="spacingAndGlyphs" stroke="#1c1c1c" stroke-width="0.3">0.2</text>
<text x="751.7" y="897.3" font-size="22" text-anchor="middle" fill="#141414" textLength="33" lengthAdjust="spacingAndGlyphs" stroke="#1c1c1c" stroke-width="0.3">0.4</text>
<text x="797.3" y="897.3" font-size="22" text-anchor="middle" fill="#141414" textLength="33" lengthAdjust="spacingAndGlyphs" stroke="#1c1c1c" stroke-width="0.3">0.6</text>
<text x="549.8" y="938.0" font-size="20.5" text-anchor="start" fill="#141414" font-weight="bold" textLength="135.5" lengthAdjust="spacingAndGlyphs" >Potential / V</text>
<text transform="translate(405.4 811.6) rotate(-90)" font-size="20.5" font-weight="bold" fill="#141414" textLength="107.6" lengthAdjust="spacingAndGlyphs"><tspan font-style="italic">j</tspan>/mA·cm<tspan font-size="12.5" dy="-8">-2</tspan></text>
<path d="M500.9,828.7 L501.0,827.5 L501.8,826.3 L503.1,825.3 L504.6,824.3 L506.2,823.4 L507.7,822.6 L509.2,821.9 L510.6,821.1 L511.9,820.5 L513.1,819.8 L514.4,819.2 L515.6,818.6 L516.9,818.1 L518.2,817.5 L519.6,817.0 L521.0,816.4 L522.4,815.9 L523.8,815.3 L525.2,814.8 L526.6,814.2 L528.0,813.6 L529.4,812.9 L530.7,812.2 L532.1,811.5 L533.4,810.8 L534.6,810.0 L535.9,809.2 L537.2,808.4 L538.4,807.6 L539.7,806.8 L540.9,806.0 L542.2,805.2 L543.5,804.3 L544.7,803.5 L546.0,802.7 L547.2,801.8 L548.4,800.9 L549.6,800.0 L550.8,799.1 L551.9,798.1 L553.0,797.1 L554.1,796.1 L555.2,795.1 L556.2,794.0 L557.2,792.9 L558.2,791.8 L559.2,790.6 L560.2,789.5 L561.1,788.3 L562.1,787.1 L563.0,785.9 L563.9,784.7 L564.8,783.5 L565.7,782.3 L566.6,781.1 L567.4,779.9 L568.3,778.7 L569.1,777.4 L570.0,776.2 L570.8,775.0 L571.7,773.7 L572.5,772.5 L573.3,771.2 L574.1,770.0 L574.9,768.7 L575.7,767.4 L576.5,766.2 L577.3,764.9 L578.1,763.6 L578.9,762.3 L579.6,761.0 L580.4,759.7 L581.1,758.4 L581.8,757.1 L582.6,755.8 L583.3,754.5 L584.0,753.2 L584.7,751.8 L585.4,750.5 L586.1,749.2 L586.8,747.9 L587.5,746.5 L588.2,745.2 L588.9,743.9 L589.7,742.6 L590.4,741.3 L591.1,740.0 L591.9,738.7 L592.7,737.4 L593.4,736.2 L594.2,734.9 L595.0,733.6 L595.8,732.4 L596.7,731.1 L597.5,729.8 L598.3,728.6 L599.2,727.4 L600.0,726.1 L600.9,724.9 L601.8,723.7 L602.7,722.5 L603.7,721.4 L604.7,720.2 L605.7,719.1 L606.7,718.0 L607.8,717.0 L608.9,716.0 L610.1,715.1 L611.3,714.2 L612.5,713.3 L613.8,712.5 L615.1,711.8 L616.5,711.2 L617.9,710.6 L619.4,710.2 L620.9,709.9 L622.4,709.7 L623.9,709.8 L625.4,710.0 L626.9,710.3 L628.3,710.8 L629.7,711.4 L631.0,712.2 L632.3,713.1 L633.4,714.1 L634.4,715.2 L635.4,716.3 L636.2,717.5 L637.1,718.8 L637.9,720.1 L638.7,721.4 L639.6,722.6 L640.4,723.9 L641.2,725.1 L642.0,726.4 L642.9,727.6 L643.7,728.9 L644.5,730.1 L645.4,731.3 L646.2,732.6 L647.0,733.8 L647.9,735.1 L648.7,736.3 L649.5,737.5 L650.4,738.8 L651.3,740.0 L652.1,741.2 L653.0,742.4 L654.0,743.6 L654.9,744.8 L655.9,745.9 L656.9,747.0 L658.0,748.1 L659.1,749.1 L660.2,750.1 L661.3,751.1 L662.5,752.0 L663.8,752.8 L665.1,753.6 L666.4,754.4 L667.7,755.0 L669.1,755.7 L670.4,756.3 L671.8,756.8 L673.3,757.3 L674.7,757.7 L676.2,758.1 L677.6,758.4 L679.1,758.7 L680.6,759.0 L682.1,759.3 L683.5,759.6 L685.0,759.9 L686.4,760.2 L687.9,760.6 L689.3,761.0 L690.7,761.5 L692.1,762.0 L693.5,762.6 L694.9,763.2 L696.3,763.8 L697.6,764.5 L699.0,765.1 L700.3,765.8 L701.7,766.5 L703.0,767.2 L704.3,767.8 L705.7,768.5 L707.0,769.2 L708.4,769.9 L709.7,770.5 L711.0,771.2 L712.4,771.8 L713.7,772.5 L715.1,773.1 L716.4,773.7 L717.8,774.3 L719.2,774.9 L720.6,775.5 L722.0,776.1 L723.4,776.6 L724.8,777.1 L726.2,777.6 L727.6,778.1 L729.1,778.6 L730.5,779.0 L732.0,779.4 L733.5,779.7 L734.9,780.0 L736.4,780.2 L737.9,780.3 L739.4,780.3 L740.9,780.3 L742.3,780.2 L743.8,780.1 L745.3,780.0 L746.8,780.1 L748.3,780.2 L749.9,780.6 L751.4,781.1 L752.7,781.9 L753.5,782.9 L753.6,784.2 L753.3,785.7 L752.6,787.3 L751.8,788.8 L751.0,790.3 L750.3,791.8 L749.6,793.1 L748.9,794.4 L748.1,795.6 L747.3,796.7 L746.4,797.8 L745.4,798.9 L744.3,799.9 L743.1,800.9 L741.9,801.8 L740.6,802.7 L739.3,803.5 L737.9,804.1 L736.6,804.8 L735.2,805.3 L733.8,805.8 L732.3,806.3 L730.9,806.7 L729.4,807.1 L728.0,807.4 L726.5,807.8 L725.1,808.1 L723.6,808.4 L722.1,808.6 L720.6,808.9 L719.2,809.1 L717.7,809.3 L716.2,809.5 L714.7,809.7 L713.2,809.9 L711.7,810.1 L710.2,810.3 L708.7,810.5 L707.3,810.6 L705.8,810.8 L704.3,810.9 L702.8,811.1 L701.3,811.2 L699.8,811.4 L698.3,811.5 L696.8,811.7 L695.3,811.8 L693.8,812.0 L692.4,812.1 L690.9,812.2 L689.4,812.3 L687.9,812.5 L686.4,812.6 L684.9,812.7 L683.4,812.9 L681.9,813.0 L680.4,813.1 L678.9,813.3 L677.4,813.4 L675.9,813.6 L674.4,813.7 L673.0,813.9 L671.5,814.1 L670.0,814.2 L668.5,814.4 L667.0,814.6 L665.5,814.9 L664.1,815.1 L662.6,815.3 L661.1,815.6 L659.6,815.9 L658.2,816.1 L656.7,816.4 L655.2,816.7 L653.7,817.0 L652.3,817.2 L650.8,817.5 L649.3,817.8 L647.8,818.2 L646.4,818.5 L644.9,818.8 L643.5,819.2 L642.0,819.5 L640.6,819.9 L639.1,820.3 L637.7,820.8 L636.3,821.3 L634.9,821.8 L633.5,822.4 L632.1,823.0 L630.7,823.6 L629.4,824.2 L628.0,824.8 L626.6,825.4 L625.2,825.9 L623.8,826.5 L622.4,827.0 L621.0,827.5 L619.6,828.0 L618.2,828.4 L616.7,828.7 L615.2,829.1 L613.8,829.4 L612.3,829.6 L610.8,829.8 L609.3,829.9 L607.8,830.0 L606.3,830.0 L604.8,829.9 L603.3,829.6 L601.8,829.3 L600.4,828.7 L599.0,828.0 L597.8,827.2 L596.6,826.3 L595.5,825.2 L594.6,824.0 L593.8,822.8 L593.2,821.4 L592.6,820.0 L592.0,818.6 L591.6,817.1 L591.2,815.6 L590.8,814.2 L590.4,812.7 L590.1,811.2 L589.8,809.8 L589.6,808.3 L589.3,806.8 L589.1,805.3 L588.9,803.9 L588.7,802.4 L588.5,800.9 L588.3,799.4 L588.1,798.0 L587.9,796.5 L587.8,795.0 L587.6,793.6 L587.4,792.1 L587.3,790.6 L587.1,789.1 L587.0,787.6 L586.9,786.1 L586.7,784.6 L586.6,783.1 L586.5,781.6 L586.3,780.1 L586.2,778.6 L586.1,777.0 L586.0,775.5 L585.9,773.9 L585.8,772.4 L585.7,770.8 L585.6,769.3 L585.5,767.8 L585.4,766.2 L585.3,764.7 L585.2,763.3 L585.1,761.8 L585.0,760.4 L584.9,759.0 L584.8,757.6 L584.6,756.3 L584.5,755.0 L584.4,753.7 L584.2,752.4 L584.1,751.1 L583.9,749.8 L583.8,748.5 L583.6,747.1 L583.5,745.6 L583.4,744.1 L583.3,742.5 L583.2,740.8 L583.1,739.0 L583.1,737.0 L583.0,734.9 L583.0,732.8 L582.9,730.7 L582.8,728.7 L582.7,726.9 L582.4,725.5 L582.1,724.6 L581.6,724.2 L580.9,724.5 L580.1,725.4 L579.2,726.8 L578.3,728.4 L577.5,730.0 L576.7,731.5 L575.9,733.0 L575.3,734.3 L574.6,735.6 L574.0,736.9 L573.4,738.1 L572.8,739.4 L572.2,740.6 L571.5,741.9 L570.9,743.2 L570.2,744.5 L569.6,745.9 L568.9,747.2 L568.2,748.6 L567.5,750.0 L566.8,751.3 L566.1,752.7 L565.4,754.1 L564.8,755.4 L564.1,756.8 L563.4,758.1 L562.7,759.4 L562.1,760.8 L561.4,762.1 L560.8,763.4 L560.1,764.8 L559.4,766.1 L558.8,767.4 L558.1,768.8 L557.4,770.1 L556.8,771.5 L556.1,772.8 L555.4,774.2 L554.8,775.5 L554.1,776.8 L553.4,778.2 L552.7,779.5 L552.0,780.8 L551.3,782.1 L550.6,783.5 L549.9,784.8 L549.1,786.1 L548.4,787.4 L547.6,788.7 L546.9,790.0 L546.1,791.2 L545.3,792.5 L544.5,793.8 L543.7,795.0 L542.9,796.3 L542.0,797.6 L541.2,798.8 L540.3,800.0 L539.4,801.2 L538.5,802.4 L537.6,803.6 L536.6,804.7 L535.6,805.8 L534.6,806.9 L533.6,808.0 L532.5,809.1 L531.5,810.1 L530.4,811.2 L529.3,812.2 L528.2,813.2 L527.1,814.3 L526.0,815.3 L524.8,816.3 L523.7,817.4 L522.6,818.4 L521.5,819.3 L520.3,820.3 L519.2,821.2 L518.0,822.0 L516.9,822.9 L515.7,823.7 L514.5,824.5 L513.3,825.4 L512.1,826.4 L510.8,827.4 L509.5,828.6 L508.2,829.7 L506.8,830.7 L505.4,831.4 L504.1,831.6 L502.8,831.1 L501.6,830.1 L500.9,828.7Z" fill="none" stroke="#000" stroke-width="3.6" stroke-linejoin="round"/>
<text x="605" y="682.8" font-size="13.5" text-anchor="middle" fill="#141414" font-weight="bold" textLength="51" lengthAdjust="spacingAndGlyphs" >-0.26 V</text>
<path d="M603.7,690.5 V706.0" stroke="#111" stroke-width="2.2" fill="none"/>
<path d="M599.4,705.0 H608.0 L603.7,714.0Z" fill="#111"/>
<text x="525" y="763" font-size="13.5" text-anchor="middle" fill="#141414" font-weight="bold" textLength="42" lengthAdjust="spacingAndGlyphs" >-0.6 V</text>
<path d="M525.9,773.5 V800.8" stroke="#111" stroke-width="2.2" fill="none"/>
<path d="M521.6,799.8 H530.2 L525.9,808.8Z" fill="#111"/>
<text x="755.3" y="730" font-size="13.5" text-anchor="middle" fill="#141414" font-weight="bold" textLength="39" lengthAdjust="spacingAndGlyphs" >0.4 V</text>
<path d="M753.0,736.5 V764.5" stroke="#111" stroke-width="2.2" fill="none"/>
<path d="M748.7,763.5 H757.3 L753.0,772.5Z" fill="#111"/>
<path d="M-5.5,-4.4 L5.5,0 L-5.5,4.4Z" fill="#000" transform="translate(558.3 769.5) rotate(118)"/>
<path d="M-5.5,-4.4 L5.5,0 L-5.5,4.4Z" fill="#000" transform="translate(597.5 732.5) rotate(-55)"/>
<path d="M146.1,1259.3 H819.6 V1739.0 H146.1 M158.6,1259.3 V1739.0 M149.6,1270.0 H158.6 M149.6,1280.6 H158.6 M149.6,1291.3 H158.6 M149.6,1301.9 H158.6 M146.1,1312.6 H158.6 M149.6,1323.3 H158.6 M149.6,1333.9 H158.6 M149.6,1344.6 H158.6 M149.6,1355.2 H158.6 M146.1,1365.9 H158.6 M149.6,1376.6 H158.6 M149.6,1387.2 H158.6 M149.6,1397.9 H158.6 M149.6,1408.5 H158.6 M146.1,1419.2 H158.6 M149.6,1429.9 H158.6 M149.6,1440.5 H158.6 M149.6,1451.2 H158.6 M149.6,1461.8 H158.6 M146.1,1472.5 H158.6 M149.6,1483.2 H158.6 M149.6,1493.8 H158.6 M149.6,1504.5 H158.6 M149.6,1515.1 H158.6 M146.1,1525.8 H158.6 M149.6,1536.5 H158.6 M149.6,1547.1 H158.6 M149.6,1557.8 H158.6 M149.6,1568.4 H158.6 M146.1,1579.1 H158.6 M149.6,1589.8 H158.6 M149.6,1600.4 H158.6 M149.6,1611.1 H158.6 M149.6,1621.7 H158.6 M146.1,1632.4 H158.6 M149.6,1643.1 H158.6 M149.6,1653.7 H158.6 M149.6,1664.4 H158.6 M149.6,1675.0 H158.6 M146.1,1685.7 H158.6 M149.6,1696.4 H158.6 M149.6,1707.0 H158.6 M149.6,1717.7 H158.6 M149.6,1728.3 H158.6" fill="none" stroke="#2b2b2b" stroke-width="2"/>
<text x="124.8" y="1270.2" font-size="33.5" text-anchor="end" fill="#141414" stroke="#141414" stroke-width="0.35" textLength="46.5" lengthAdjust="spacingAndGlyphs" >0.8</text>
<text x="124.8" y="1323.5" font-size="33.5" text-anchor="end" fill="#141414" stroke="#141414" stroke-width="0.35" textLength="46.5" lengthAdjust="spacingAndGlyphs" >0.6</text>
<text x="124.8" y="1376.8" font-size="33.5" text-anchor="end" fill="#141414" stroke="#141414" stroke-width="0.35" textLength="46.5" lengthAdjust="spacingAndGlyphs" >0.4</text>
<text x="124.8" y="1430.1" font-size="33.5" text-anchor="end" fill="#141414" stroke="#141414" stroke-width="0.35" textLength="46.5" lengthAdjust="spacingAndGlyphs" >0.2</text>
<text x="124.8" y="1483.4" font-size="33.5" text-anchor="end" fill="#141414" stroke="#141414" stroke-width="0.35" textLength="46.5" lengthAdjust="spacingAndGlyphs" >0.0</text>
<text x="124.8" y="1536.7" font-size="33.5" text-anchor="end" fill="#141414" stroke="#141414" stroke-width="0.35" textLength="58" lengthAdjust="spacingAndGlyphs" >-0.2</text>
<text x="124.8" y="1590.0" font-size="33.5" text-anchor="end" fill="#141414" stroke="#141414" stroke-width="0.35" textLength="58" lengthAdjust="spacingAndGlyphs" >-0.4</text>
<text x="124.8" y="1643.3" font-size="33.5" text-anchor="end" fill="#141414" stroke="#141414" stroke-width="0.35" textLength="58" lengthAdjust="spacingAndGlyphs" >-0.6</text>
<text x="124.8" y="1696.6" font-size="33.5" text-anchor="end" fill="#141414" stroke="#141414" stroke-width="0.35" textLength="58" lengthAdjust="spacingAndGlyphs" >-0.8</text>
<text x="124.8" y="1749.9" font-size="33.5" text-anchor="end" fill="#141414" stroke="#141414" stroke-width="0.35" textLength="58" lengthAdjust="spacingAndGlyphs" >-1.0</text>
<path d="M158.6,1547.1 H230 V1365.9 M234.2,1365.9 V1632.4 H242.3 V1541.8 H655 V1365.9 M658.4,1365.9 V1632.4 H665.8 V1541.8 H819.6" fill="none" stroke="#000" stroke-width="3.7" stroke-linejoin="round"/>
<path d="M228.0,1548.6 V1368.4 a4,4 0 0 1 8,0 V1548.6Z" fill="#000"/>
<path d="M652.6,1543.3 V1368.4 a4,4 0 0 1 8,0 V1543.3Z" fill="#000"/>
<path d="M282.4,1304.6 V1706.8 H286" fill="none" stroke="#1e1e1e" stroke-width="2.3" stroke-dasharray="8.6 7.825"/>
<path d="M281.4,1296.2 L290.3,1293.8 M297.9,1294.2 H301.7 M291.8,1706.8 H301.7" fill="none" stroke="#1e1e1e" stroke-width="2.3"/>
<path d="M713.4,1299.4 V1703.4" fill="none" stroke="#2a2a2a" stroke-width="3.3" stroke-dasharray="8.3 8.18"/>
<path d="M701.3,1294.2 H711.8 M701.8,1706.8 H708.9" fill="none" stroke="#2a2a2a" stroke-width="2.4"/>
<text x="182.8" y="1325.3" font-size="50" text-anchor="start" fill="#141414" font-weight="bold" textLength="31.5" lengthAdjust="spacingAndGlyphs" >C</text>
<text x="624.2" y="1329.2" font-size="33.5" text-anchor="start" fill="#141414" stroke="#141414" stroke-width="0.35" textLength="68" lengthAdjust="spacingAndGlyphs" >0.1 s</text>
<text x="624.2" y="1678" font-size="33.5" text-anchor="start" fill="#141414" stroke="#141414" stroke-width="0.35" textLength="68" lengthAdjust="spacingAndGlyphs" >0.2 s</text>
<text x="420.5" y="1519.5" font-size="33.5" text-anchor="start" fill="#141414" stroke="#141414" stroke-width="0.35" textLength="58" lengthAdjust="spacingAndGlyphs" >10 s</text>
<text x="729.5" y="1695.8" font-size="33.5" text-anchor="start" fill="#141414" stroke="#141414" stroke-width="0.35" textLength="75" lengthAdjust="spacingAndGlyphs" >360×</text>
<text x="422.5" y="1796.2" font-size="32" text-anchor="start" fill="#141414" font-weight="bold" textLength="75.5" lengthAdjust="spacingAndGlyphs" >Time</text>
<g transform="translate(39.6 1590.5) rotate(-90)" font-size="32" font-weight="bold" fill="#141414"><text x="0" y="0" textLength="146" lengthAdjust="spacingAndGlyphs">Potential</text><text x="0" y="0" font-size="40" transform="translate(153.6 5) skewX(-15)">/</text><text x="174" y="0" textLength="25.5" lengthAdjust="spacingAndGlyphs">V</text></g>
</g>
</svg>
</body></html>
